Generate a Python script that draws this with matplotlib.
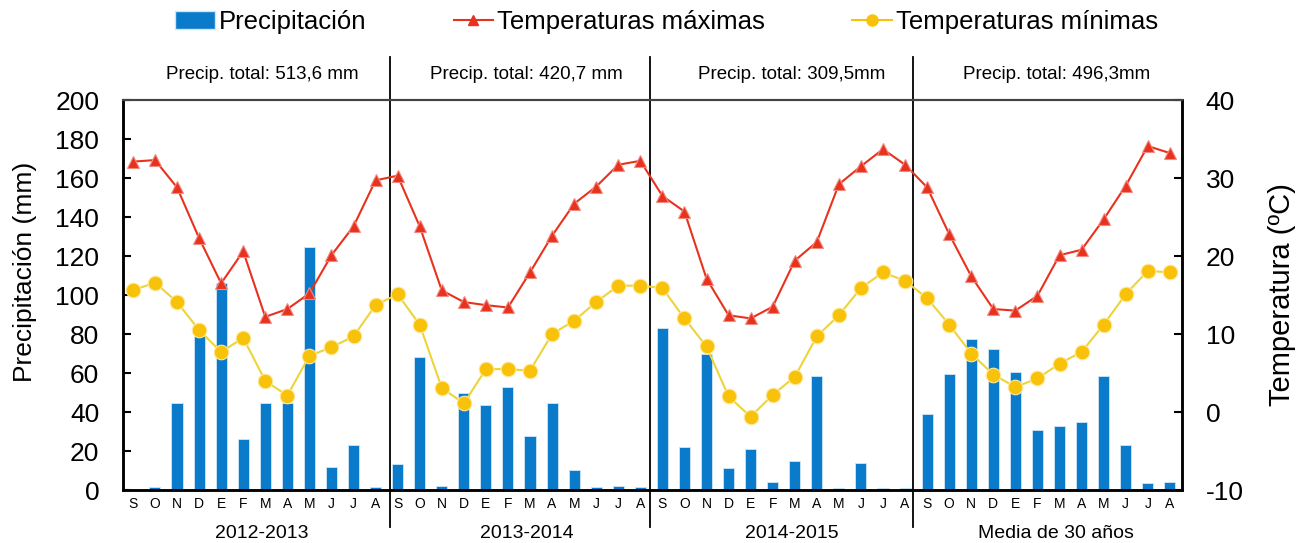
import numpy as np
import matplotlib.pyplot as plt
from matplotlib.patches import Patch
from matplotlib.lines import Line2D
from matplotlib.transforms import blended_transform_factory

plt.rcParams['font.family'] = ['Liberation Sans', 'DejaVu Sans']
plt.rcParams['axes.unicode_minus'] = False

months = ["S", "O", "N", "D", "E", "F", "M", "A", "M", "J", "J", "A"]
periods = ["2012-2013", "2013-2014", "2014-2015", "Media de 30 años"]
totals = ["Precip. total: 513,6 mm", "Precip. total: 420,7 mm",
          "Precip. total: 309,5mm", "Precip. total: 496,3mm"]

# precipitación mensual (mm), sep-ago de cada periodo
precip = [
    0.5, 1.4, 44.8, 79.0, 106.0, 26.2, 44.8, 44.8, 124.8, 12.0, 23.0, 1.4,
    13.2, 68.4, 2.0, 49.6, 43.6, 52.6, 27.9, 44.8, 10.3, 1.4, 1.9, 1.4,
    83.2, 21.9, 69.5, 11.1, 21.0, 4.3, 15.0, 58.5, 1.2, 14.0, 1.2, 1.2,
    39.0, 59.5, 77.3, 72.3, 60.3, 30.8, 32.8, 35.0, 58.6, 23.0, 3.4, 4.3,
]

# temperaturas máximas (ºC)
tmax = [
    32.1, 32.3, 28.8, 22.3, 16.5, 20.6, 12.2, 13.2, 15.2, 20.1, 23.8, 29.7,
    30.3, 23.8, 15.6, 14.1, 13.7, 13.4, 17.9, 22.6, 26.7, 28.9, 31.7, 32.2,
    27.7, 25.7, 17.1, 12.4, 12.0, 13.5, 19.4, 21.8, 29.2, 31.5, 33.7, 31.7,
    28.8, 22.8, 17.4, 13.2, 13.0, 14.9, 20.1, 20.8, 24.7, 29.0, 34.1, 33.2,
]

# temperaturas mínimas (ºC)
tmin = [
    15.6, 16.6, 14.1, 10.5, 7.7, 9.5, 4.0, 2.1, 7.2, 8.3, 9.7, 13.7,
    15.1, 11.2, 3.1, 1.1, 5.5, 5.5, 5.3, 10.0, 11.7, 14.1, 16.2, 16.2,
    15.9, 12.0, 8.4, 2.0, -0.6, 2.2, 4.5, 9.7, 12.4, 15.9, 17.9, 16.8,
    14.6, 11.2, 7.5, 4.8, 3.2, 4.3, 6.2, 7.7, 11.2, 15.1, 18.1, 17.9,
]

x = np.arange(len(precip))
blue = "#0a7acb"
red = "#e8321e"
yellow = "#f9c20a"

fig = plt.figure(figsize=(12.97, 5.43), dpi=100)
ax = fig.add_axes([0.0948, 0.0976, 0.8165, 0.7182])
ax2 = ax.twinx()

ax.bar(x, precip, width=0.5, color=blue, edgecolor="#cfe6f7", linewidth=0.6, zorder=2)
ax.set_ylim(0, 200)
ax.set_xlim(-0.45, 47.55)
ax.set_yticks(range(0, 201, 20))
ax.tick_params(axis="y", direction="in", length=6, width=1.5, labelsize=19, pad=17)
ax.set_ylabel("Precipitación (mm)", fontsize=19)
ax.yaxis.set_label_coords(-0.0812, 0.56)

ax.set_xticks(x)
ax.set_xticklabels(months * 4, fontsize=10)
ax.tick_params(axis="x", length=0, pad=5)

ax2.plot(x, tmax, color=red, lw=1.5, marker="^", ms=9, mfc=red, mec="#f08a80",
         mew=0.8, zorder=4)
ax2.plot(x, tmin, color="#ecd43a", lw=1.5, marker="o", ms=10.5, mfc=yellow, mec="#fde9a0",
         mew=0.8, zorder=3)
ax2.set_ylim(-10, 40)
ax2.set_yticks(range(-10, 41, 10))
ax2.tick_params(axis="y", direction="in", length=6, width=1.5, labelsize=19, pad=17)
ax2.set_ylabel("Temperatura (ºC)", fontsize=21)
ax2.yaxis.set_label_coords(1.0812, 0.50)

# ax2 encima de las barras, sin tapar nada
ax.set_zorder(1)
ax2.set_zorder(2)
ax2.patch.set_visible(False)

for a in (ax, ax2):
    a.spines["left"].set_linewidth(1.8)
    a.spines["right"].set_linewidth(1.8)
    a.spines["bottom"].set_linewidth(1.8)
    a.spines["top"].set_color("#444444")
    a.spines["top"].set_linewidth(1.5)

# separadores entre periodos, textos de totales y nombres de periodo
trans = blended_transform_factory(ax.transData, ax.transAxes)
for sx in [11.65, 23.45, 35.35]:
    ax.plot([sx, sx], [-0.095, 1.11], color="black", lw=1.3,
            transform=trans, clip_on=False, zorder=5)
for k in range(4):
    cx = 12 * k + 5.85
    ax.text(cx, 1.065, totals[k], transform=trans, ha="center", va="center", fontsize=13.5)
    ax.text(cx, -0.112, periods[k], transform=trans, ha="center", va="center", fontsize=14)

handles = [
    Patch(facecolor=blue, edgecolor="#cfe6f7"),
    Line2D([], [], color=red, lw=1.5, marker="^", ms=7, mfc=red, mec=red),
    Line2D([], [], color=yellow, lw=1.5, marker="o", ms=8, mfc=yellow, mec=yellow),
]
labels = ["Precipitación", "Temperaturas máximas", "Temperaturas mínimas"]
fig.legend(handles, labels, loc="center", bbox_to_anchor=(0.514, 0.959), ncol=3,
           frameon=False, fontsize=18.5, handlelength=1.55, handletextpad=0.15,
           columnspacing=3.4, handleheight=0.7)

fig.savefig("out.png", dpi=100)
